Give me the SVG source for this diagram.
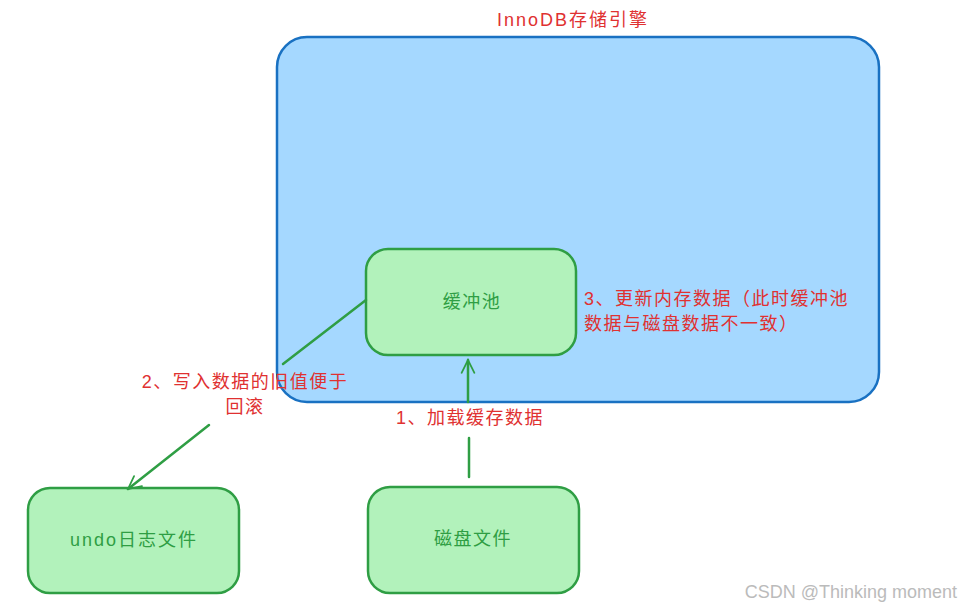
<svg xmlns="http://www.w3.org/2000/svg" width="961" height="610" viewBox="0 0 961 610">
<defs>
<style>
.node{fill:#b2f2bb;stroke:#2f9e44;stroke-width:2.5}
.ntext{fill:#2f9e44;font-family:"Liberation Sans","Noto Sans CJK SC",sans-serif;font-size:18px;letter-spacing:1.5px;text-anchor:middle}
.lbl{fill:#e03131;font-family:"Liberation Sans","Noto Sans CJK SC",sans-serif;font-size:18px;letter-spacing:1.5px}
.conn{stroke:#2f9e44;stroke-width:2.5;fill:none;stroke-linecap:round}
</style>
<marker id="ah" viewBox="0 0 20 20" refX="18" refY="10" markerWidth="16" markerHeight="16" markerUnits="userSpaceOnUse" orient="auto">
<path d="M2,2 L18,10 L2,18" fill="none" stroke="#2f9e44" stroke-width="2.2" stroke-linecap="round"/>
</marker>
</defs>
<rect width="961" height="610" fill="#ffffff"/>
<g id="innodb">
<rect x="277" y="37" width="602" height="365" rx="30" fill="#a5d8ff" stroke="#1971c2" stroke-width="2.5"/>
<text x="573" y="26" class="lbl" text-anchor="middle" style="letter-spacing:2px">InnoDB存储引擎</text>
</g>
<g id="buffer-pool">
<rect class="node" x="366" y="249" width="210" height="106" rx="22"/>
<text class="ntext" x="472" y="308">缓冲池</text>
</g>
<g id="undo-log">
<rect class="node" x="28" y="488" width="211" height="105" rx="22"/>
<text class="ntext" x="134" y="546" style="letter-spacing:2px">undo日志文件</text>
</g>
<g id="disk-file">
<rect class="node" x="368" y="487" width="211" height="106" rx="22"/>
<text class="ntext" x="473" y="545">磁盘文件</text>
</g>
<g id="connectors">
<line class="conn" x1="469" y1="477" x2="469" y2="438"/>
<line class="conn" x1="468" y1="402" x2="468" y2="360" marker-end="url(#ah)"/>
<line class="conn" x1="366" y1="300" x2="283" y2="364"/>
<line class="conn" x1="209" y1="425" x2="128" y2="489" marker-end="url(#ah)"/>
</g>
<g id="labels">
<text class="lbl" x="470" y="424" text-anchor="middle">1、加载缓存数据</text>
<text class="lbl" x="245" y="388" text-anchor="middle">2、写入数据的旧值便于</text>
<text class="lbl" x="245" y="413" text-anchor="middle">回滚</text>
<text class="lbl" x="584" y="305">3、更新内存数据（此时缓冲池</text>
<text class="lbl" x="584" y="330">数据与磁盘数据不一致）</text>
</g>
<text x="957" y="598" fill="#bbbbbb" font-family="Liberation Sans, sans-serif" font-size="18" text-anchor="end">CSDN @Thinking moment</text>
</svg>
